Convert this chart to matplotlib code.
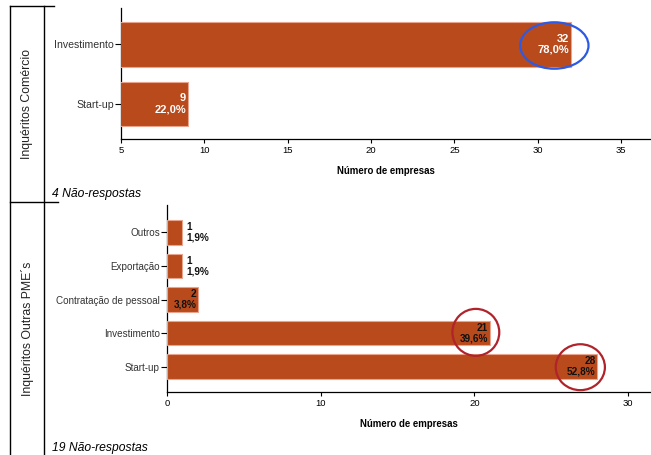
import matplotlib
matplotlib.use('Agg')
import matplotlib.pyplot as plt
from matplotlib.patches import Ellipse
from matplotlib.lines import Line2D

plt.rcParams['font.family'] = ['Liberation Sans', 'DejaVu Sans']

# data
com_cats = ['Investimento', 'Start-up']
com_vals = [32, 9]
com_pct = ['78,0%', '22,0%']
com_ticks = [5, 10, 15, 20, 25, 30, 35]

pme_cats = ['Outros', 'Exportação', 'Contratação de pessoal', 'Investimento', 'Start-up']
pme_vals = [1, 1, 2, 21, 28]
pme_pct = ['1,9%', '1,9%', '3,8%', '39,6%', '52,8%']
pme_ticks = [0, 10, 20, 30]

bar_color = '#B84A1B'
edge_color = '#E8A48C'

W, H = 651, 455
fig = plt.figure(figsize=(W / 100, H / 100), dpi=100)

def px_axes(left, top, right, bottom):
    return fig.add_axes([left / W, 1 - bottom / H, (right - left) / W, (bottom - top) / H])

def style(ax, ticks, ysize):
    for s in ['top', 'right']:
        ax.spines[s].set_visible(False)
    ax.spines['left'].set_linewidth(0.9)
    ax.spines['bottom'].set_linewidth(0.9)
    ax.set_xticks(ticks)
    ax.tick_params(axis='x', length=3, width=0.8, labelsize=6.8, pad=2)
    ax.tick_params(axis='y', length=4, width=0.8, labelsize=ysize, pad=1, labelcolor='#333333')
    ax.set_xlabel('Número de empresas', fontsize=6.9, fontweight='bold', labelpad=8)

# top chart - comércio
ax1 = px_axes(121, 8, 651, 139)
ax1.barh(range(len(com_cats)), com_vals, height=0.75, color=bar_color,
         edgecolor=edge_color, linewidth=0.8, zorder=3)
ax1.set_yticks(range(len(com_cats)))
ax1.set_yticklabels(com_cats)
ax1.set_xlim(5, 36.8)
ax1.set_ylim(1.59, -0.61)
style(ax1, com_ticks, 7.6)
for i, (v, p) in enumerate(zip(com_vals, com_pct)):
    ax1.text(v - 0.1, i, f'{v}\n{p}', ha='right', va='center', color='white',
             fontsize=8, fontweight='bold', linespacing=1.1, zorder=4)
ax1.add_patch(Ellipse((31, 0.02), 4.1, 0.78, fill=False, edgecolor='#2B5BE6',
                      linewidth=1.6, zorder=5, clip_on=False))

# bottom chart - outras PME's
ax2 = px_axes(167, 205, 651, 392)
ax2.barh(range(len(pme_cats)), pme_vals, height=0.72, color=bar_color,
         edgecolor=edge_color, linewidth=0.8, zorder=3)
ax2.set_yticks(range(len(pme_cats)))
ax2.set_yticklabels(pme_cats)
ax2.set_xlim(0, 31.5)
ax2.set_ylim(4.76, -0.82)
style(ax2, pme_ticks, 7.1)
for i, (v, p) in enumerate(zip(pme_vals, pme_pct)):
    if v < 2:
        ax2.text(v + 0.25, i, f'{v}\n{p}', ha='left', va='center', color='#111111',
                 fontsize=7.2, fontweight='bold', linespacing=1.1, zorder=4)
    else:
        ax2.text(v - 0.1, i, f'{v}\n{p}', ha='right', va='center', color='#111111',
                 fontsize=7.2, fontweight='bold', linespacing=1.1, zorder=4)
ax2.add_patch(Ellipse((20.1, 2.98), 3.05, 1.4, fill=False, edgecolor='#B0232A',
                      linewidth=1.6, zorder=5, clip_on=False))
ax2.add_patch(Ellipse((26.9, 4.02), 3.2, 1.37, fill=False, edgecolor='#B0232A',
                      linewidth=1.6, zorder=5, clip_on=False))

# frame lines on the left
def hline(y, x0, x1):
    fig.add_artist(Line2D([x0 / W, x1 / W], [1 - y / H, 1 - y / H], color='black', linewidth=1))

def vline(x, y0, y1):
    fig.add_artist(Line2D([x / W, x / W], [1 - y0 / H, 1 - y1 / H], color='black', linewidth=1))

vline(10, 6, 455)
vline(44, 6, 455)
hline(6, 10, 54)
hline(202, 10, 58)

fig.text(27 / W, 1 - 104 / H, 'Inquéritos Comércio', rotation=90, ha='center', va='center',
         fontsize=8.8, color='#222222')
fig.text(27 / W, 1 - 329 / H, 'Inquéritos Outras PME´s', rotation=90, ha='center', va='center',
         fontsize=8.8, color='#222222')
fig.text(52 / W, 1 - 194 / H, '4 Não-respostas', style='italic', ha='left', va='center', fontsize=8.7)
fig.text(52 / W, 1 - 448 / H, '19 Não-respostas', style='italic', ha='left', va='center', fontsize=8.7)

fig.savefig('out.png', dpi=100)
